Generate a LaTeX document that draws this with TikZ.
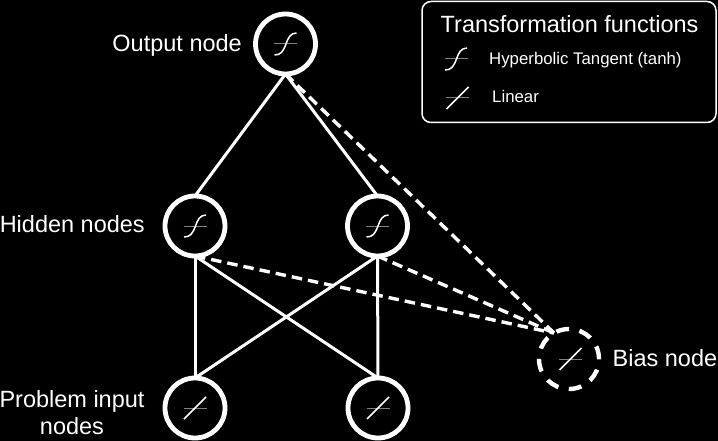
\documentclass[tikz,border=0pt]{standalone}
\usepackage{fontspec}
\setmainfont{Liberation Sans}
\tikzset{
  x=1pt,y=-1pt,
  neuron/.style={circle,draw=white,line width=4.8pt,minimum size=60pt,inner sep=0pt,outer sep=0pt},
  biasnode/.style={neuron,line width=4.4pt,dash pattern=on 13pt off 10.5pt},
  conn/.style={draw=white,line width=3pt},
  dconn/.style={draw=white,line width=3.4pt,dash pattern=on 10.5pt off 6pt},
  bigtext/.style={text=white,inner sep=0pt,font=\fontsize{23.5pt}{27pt}\selectfont},
  smalltext/.style={text=white,inner sep=0pt,font=\fontsize{16.8pt}{20pt}\selectfont},
  axisline/.style={draw=white!50!black,line width=1pt},
  fnline/.style={draw=white,line width=1.5pt},
  pics/tanhfn/.style={code={
    \draw[axisline] (-11.5,0) -- (11.5,0);
    \draw[fnline] (-11,11) .. controls (-5,11) and (-2.5,8) .. (0.5,0) .. controls (2.5,-6) and (5,-11) .. (11,-11);
  }},
  pics/linfn/.style={code={
    \draw[axisline] (-11.5,0) -- (11.5,0);
    \draw[fnline] (-11,11) -- (11,-11);
  }},
}
\begin{document}
\begin{tikzpicture}
\useasboundingbox[fill=black] (0,0) rectangle (718,441);
\node[neuron] (out) at (285.5,44) {};
\node[neuron] (h1) at (195,226) {};
\node[neuron] (h2) at (377.5,226) {};
\node[neuron] (i1) at (195,408) {};
\node[neuron] (i2) at (378,408) {};
\node[biasnode] (bias) at (569,359) {};
\draw[conn] (out.south) -- (h1.north);
\draw[conn] (out.south) -- (h2.north);
\draw[conn] (h1.south) -- (i1.north);
\draw[conn] (h1.south) -- (i2.north);
\draw[conn] (h2.south) -- (i1.north);
\draw[conn] (h2.south) -- (i2.north);
\draw[dconn] (out.south) -- (bias.120);
\draw[dconn] (h1.south) -- (bias.120);
\draw[dconn] (h2.south) -- (bias.120);
\pic at (out.center) {tanhfn};
\pic at (h1.center) {tanhfn};
\pic at (h2.center) {tanhfn};
\pic at (i1.center) {linfn};
\pic at (i2.center) {linfn};
\pic at (570.5,359) {linfn};
\node[bigtext,anchor=base east] (lo) at (242,52) {Output node};
\node[bigtext,anchor=base east] (lh) at (145,233) {Hidden nodes};
\node[bigtext,anchor=center,align=center] (li) at (72,413) {Problem input\\nodes};
\node[bigtext,anchor=base west] (lb) at (612.5,366) {Bias node};
\draw[draw=white,line width=1.5pt,rounded corners=9pt] (422,1.5) rectangle (716,122.5);
\node[bigtext,anchor=base west] (lt) at (440.5,33) {Transformation functions};
\node[smalltext,anchor=base west] (lt1) at (489,65) {Hyperbolic Tangent (tanh)};
\node[smalltext,anchor=base west] (lt2) at (492,103) {Linear};
\pic at (456,59) {tanhfn};
\pic at (457.5,98) {linfn};
\end{tikzpicture}
\end{document}
